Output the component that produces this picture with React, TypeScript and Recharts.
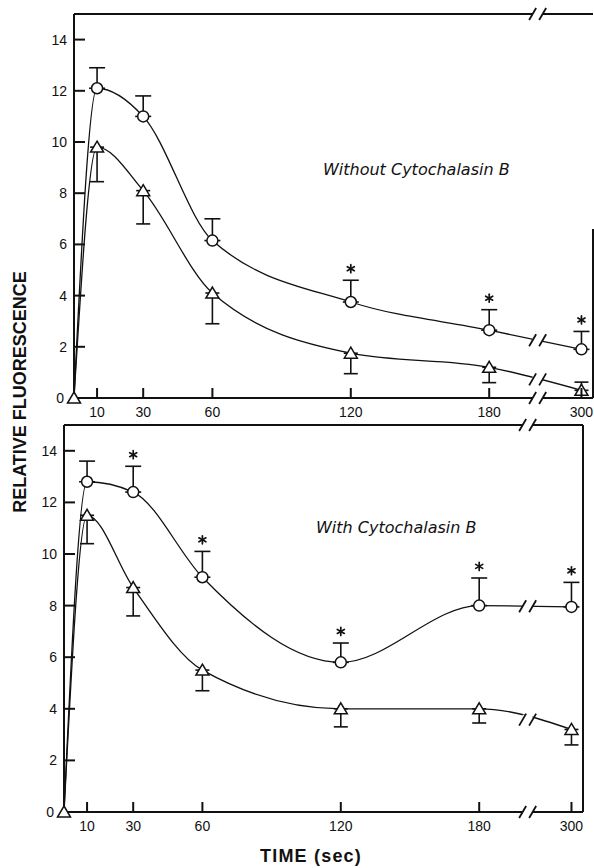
import { ComposedChart, Line, XAxis, YAxis, ErrorBar, Scatter, ReferenceLine } from "recharts";

// sampling times (sec); 300 sits after the axis break
const TIMES = [0, 10, 30, 60, 120, 180, 300];
const X_TICKS = [10, 30, 60, 120, 180, 300];
const Y_TICKS = [0, 2, 4, 6, 8, 10, 12, 14];

// without cytochalasin B
const topCircle = [0, 12.1, 11.0, 6.15, 3.75, 2.65, 1.9];
const topCircleErr = [null, 0.8, 0.8, 0.85, 0.85, 0.8, 0.7];
const topTriangle = [0, 9.8, 8.1, 4.1, 1.75, 1.2, 0.3];
// negative = bar drawn below the point
const topTriangleErr = [null, -1.35, -1.3, -1.2, -0.8, -0.6, 0.32];
const topStars = [false, false, false, false, true, true, true];

// with cytochalasin B
const botCircle = [0, 12.8, 12.4, 9.1, 5.8, 8.0, 7.95];
const botCircleErr = [null, 0.8, 1.0, 1.0, 0.75, 1.07, 0.95];
const botTriangle = [0, 11.5, 8.7, 5.5, 4.0, 4.0, 3.2];
const botTriangleErr = [null, -1.1, -1.1, -0.8, -0.7, -0.55, -0.6];
const botStars = [false, false, true, true, true, true, true];

const AX_300 = 220; // where 300 s lands on the broken axis
const BREAK_AT = 201;
const X_MAX = 225;
const Y_MAX = 15;
const INK = "#111";

const axisPos = (t: number) => (t > 180 ? AX_300 : t);

function buildRows(c: number[], cErr: (number | null)[], tr: number[], tErr: (number | null)[]) {
  return TIMES.map((t, i) => {
    const te = tErr[i];
    return {
      x: axisPos(t),
      c: c[i],
      t: tr[i],
      cErr: cErr[i] == null ? undefined : [0, cErr[i]],
      tErr: te == null ? undefined : te < 0 ? [-te, 0] : [0, te],
    };
  });
}

function starPoints(c: number[], cErr: (number | null)[], stars: boolean[]) {
  return TIMES.map((t, i) => ({ x: axisPos(t), y: c[i] + (cErr[i] ?? 0) + 0.45, on: stars[i] })).filter((p) => p.on);
}

function breakPoints(c: number[], tr: number[]) {
  const f = (BREAK_AT - 180) / (AX_300 - 180);
  const n = c.length - 1;
  return [
    { x: BREAK_AT, y: 0 },
    { x: BREAK_AT, y: Y_MAX },
    { x: BREAK_AT, y: c[n - 1] + (c[n] - c[n - 1]) * f },
    { x: BREAK_AT, y: tr[n - 1] + (tr[n] - tr[n - 1]) * f },
  ];
}

const CircleMark = (p: any) => <circle cx={p.cx} cy={p.cy} r={5.5} fill="#fff" stroke={INK} strokeWidth={1.5} />;

const TriangleMark = (p: any) => (
  <path
    d={`M${p.cx},${p.cy - 6} L${p.cx + 6.5},${p.cy + 5} L${p.cx - 6.5},${p.cy + 5} Z`}
    fill="#fff"
    stroke={INK}
    strokeWidth={1.5}
  />
);

const StarMark = (p: any) => (
  <g stroke={INK} strokeWidth={1.7} strokeLinecap="round">
    <line x1={p.cx} y1={p.cy - 4} x2={p.cx} y2={p.cy + 4} />
    <line x1={p.cx - 3.5} y1={p.cy - 2} x2={p.cx + 3.5} y2={p.cy + 2} />
    <line x1={p.cx - 3.5} y1={p.cy + 2} x2={p.cx + 3.5} y2={p.cy - 2} />
  </g>
);

const BreakMark = (p: any) => (
  <g>
    <rect x={p.cx - 5} y={p.cy - 5} width={10} height={10} fill="#fff" />
    <line x1={p.cx - 8.5} y1={p.cy + 6} x2={p.cx - 1.5} y2={p.cy - 6} stroke={INK} strokeWidth={1.8} />
    <line x1={p.cx + 1.5} y1={p.cy + 6} x2={p.cx + 8.5} y2={p.cy - 6} stroke={INK} strokeWidth={1.8} />
  </g>
);

const XTick = (p: any) => {
  const v = p.payload.value;
  return (
    <g>
      <line x1={p.x} x2={p.x} y1={p.y} y2={p.y - 10} stroke={INK} strokeWidth={2} />
      <text x={p.x} y={p.y} dy={19} textAnchor="middle" fontSize={14} fill={INK}>
        {v === AX_300 ? 300 : v}
      </text>
    </g>
  );
};

const YTick = (p: any) => {
  const v = p.payload.value;
  return (
    <g>
      {v !== 0 && <line x1={p.x} x2={p.x + 11} y1={p.y} y2={p.y} stroke={INK} strokeWidth={2} />}
      <text x={p.x - (v === 0 ? 10 : 7)} y={p.y} dy={5} textAnchor="end" fontSize={14} fill={INK}>
        {v}
      </text>
    </g>
  );
};

interface PanelProps {
  rows: ReturnType<typeof buildRows>;
  stars: { x: number; y: number }[];
  breaks: { x: number; y: number }[];
  height: number;
  margin: { top: number; right: number; bottom: number; left: number };
  rightBorderTo: number;
}

function Panel({ rows, stars, breaks, height, margin, rightBorderTo }: PanelProps) {
  return (
    <ComposedChart width={594} height={height} data={rows} margin={margin}>
      <XAxis
        type="number"
        dataKey="x"
        domain={[0, X_MAX]}
        ticks={X_TICKS.map(axisPos)}
        interval={0}
        axisLine={{ stroke: INK, strokeWidth: 2 }}
        tickLine={false}
        tickSize={0}
        tickMargin={0}
        height={30}
        tick={XTick}
      />
      <YAxis
        type="number"
        domain={[0, Y_MAX]}
        ticks={Y_TICKS}
        interval={0}
        width={40}
        axisLine={{ stroke: INK, strokeWidth: 2 }}
        tickLine={false}
        tickSize={0}
        tickMargin={0}
        tick={YTick}
      />
      <ReferenceLine y={Y_MAX} stroke={INK} strokeWidth={2} />
      <ReferenceLine
        segment={[
          { x: X_MAX, y: 0 },
          { x: X_MAX, y: rightBorderTo },
        ]}
        stroke={INK}
        strokeWidth={2}
      />
      <Line type="monotone" dataKey="c" stroke={INK} strokeWidth={1.3} dot={false} activeDot={false} isAnimationActive={false}>
        <ErrorBar dataKey="cErr" direction="y" width={8} stroke={INK} strokeWidth={1.6} />
      </Line>
      <Line type="monotone" dataKey="t" stroke={INK} strokeWidth={1.3} dot={false} activeDot={false} isAnimationActive={false}>
        <ErrorBar dataKey="tErr" direction="y" width={7} stroke={INK} strokeWidth={1.6} />
      </Line>
      <Scatter data={rows.filter((r) => r.x > 0)} dataKey="c" shape={CircleMark} isAnimationActive={false} />
      <Scatter data={rows} dataKey="t" shape={TriangleMark} isAnimationActive={false} />
      <Scatter data={stars} dataKey="y" shape={StarMark} isAnimationActive={false} />
      <Scatter data={breaks} dataKey="y" shape={BreakMark} isAnimationActive={false} />
    </ComposedChart>
  );
}

const topRows = buildRows(topCircle, topCircleErr, topTriangle, topTriangleErr);
const botRows = buildRows(botCircle, botCircleErr, botTriangle, botTriangleErr);

export default function App() {
  const note = {
    position: "absolute" as const,
    fontFamily: "DejaVu Sans",
    fontStyle: "italic",
    fontSize: 16,
    color: INK,
    whiteSpace: "nowrap" as const,
    lineHeight: "20px",
  };
  return (
    <div
      style={{
        position: "absolute",
        left: 0,
        top: 0,
        width: 594,
        height: 868,
        background: "#fff",
        fontFamily: "Liberation Sans",
        overflow: "hidden",
      }}
    >
      <div style={{ position: "absolute", left: 0, top: 0 }}>
        <Panel
          rows={topRows}
          stars={starPoints(topCircle, topCircleErr, topStars)}
          breaks={breakPoints(topCircle, topTriangle)}
          height={432}
          margin={{ top: 14, right: 1, bottom: 4, left: 34 }}
          rightBorderTo={6.6}
        />
      </div>
      <div style={{ position: "absolute", left: 0, top: 411 }}>
        <Panel
          rows={botRows}
          stars={starPoints(botCircle, botCircleErr, botStars)}
          breaks={breakPoints(botCircle, botTriangle)}
          height={457}
          margin={{ top: 14, right: 11, bottom: 26, left: 24 }}
          rightBorderTo={Y_MAX}
        />
      </div>
      <div style={{ ...note, left: 323, top: 160 }}>Without Cytochalasin B</div>
      <div style={{ ...note, left: 316, top: 518 }}>With Cytochalasin B</div>
      <div
        style={{
          position: "absolute",
          left: 20 - 140,
          top: 392 - 11,
          width: 280,
          height: 22,
          lineHeight: "22px",
          textAlign: "center",
          transform: "rotate(-90deg)",
          fontWeight: "bold",
          fontSize: 18,
          color: INK,
          whiteSpace: "nowrap",
        }}
      >
        RELATIVE FLUORESCENCE
      </div>
      <div
        style={{
          position: "absolute",
          left: 311 - 80,
          top: 845,
          width: 160,
          textAlign: "center",
          fontWeight: "bold",
          fontSize: 18,
          letterSpacing: 1.2,
          color: INK,
          lineHeight: "22px",
        }}
      >
        TIME (sec)
      </div>
    </div>
  );
}
